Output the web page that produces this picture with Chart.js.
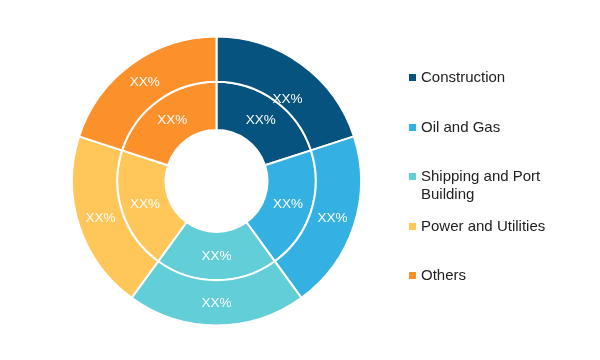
<!DOCTYPE html>
<html>
<head>
<meta charset="utf-8">
<script src="https://cdn.jsdelivr.net/npm/chart.js@4"></script>
<style>
  html, body { margin: 0; padding: 0; background: #fff; }
  #wrap { position: relative; width: 600px; height: 360px; }
  #c { position: absolute; left: 0; top: 0; }
  #legend { position: absolute; left: 0; top: 0; width: 600px; height: 360px; pointer-events: none; }
  .item { position: absolute; left: 409px; width: 180px; display: flex; align-items: flex-start;
          font-family: "Liberation Sans", Arial, sans-serif; font-size: 15px; line-height: 18px; color: #222; }
  .sw { width: 7px; height: 7px; margin-top: 6px; margin-right: 5px; flex: none; }
  .txt { width: 150px; }
</style>
</head>
<body>
<div id="wrap">
  <canvas id="c" width="600" height="360"></canvas>
  <div id="legend"></div>
</div>
<script>
const categories = ["Construction", "Oil and Gas", "Shipping and Port Building", "Power and Utilities", "Others"];
const outerValues = [20, 20, 20, 20, 20];
const innerValues = [20, 20, 20, 20, 20];
const outerLabels = ["XX%", "XX%", "XX%", "XX%", "XX%"];
const innerLabels = ["XX%", "XX%", "XX%", "XX%", "XX%"];
const colors = ["#07537F", "#34B1E2", "#62CED8", "#FFC65A", "#FC912C"];

// label placement tweaks (angle fraction within slice, radial fraction within ring)
const outerLabelPos = [[0.57, 0.2], [0.5, 0.5], [0.5, 0.5], [0.5, 0.5], [0.5, 0.5]];
const innerLabelPos = [[0.5, 0.5], [0.5, 0.5], [0.5, 0.5], [0.5, 0.5], [0.5, 0.5]];

const labelPlugin = {
  id: 'sliceLabels',
  afterDatasetsDraw(chart) {
    const ctx = chart.ctx;
    ctx.save();
    ctx.fillStyle = '#ffffff';
    ctx.font = '13.5px "Liberation Sans", Arial, sans-serif';
    ctx.textAlign = 'center';
    ctx.textBaseline = 'middle';
    chart.data.datasets.forEach((ds, di) => {
      const meta = chart.getDatasetMeta(di);
      const pos = di === 0 ? outerLabelPos : innerLabelPos;
      meta.data.forEach((arc, i) => {
        const p = arc.getProps(['x', 'y', 'startAngle', 'endAngle', 'innerRadius', 'outerRadius']);
        const a = p.startAngle + (p.endAngle - p.startAngle) * pos[i][0];
        const r = p.innerRadius + (p.outerRadius - p.innerRadius) * pos[i][1];
        ctx.fillText(ds.sliceLabels[i], p.x + Math.cos(a) * r, p.y + Math.sin(a) * r);
      });
    });
    ctx.restore();
  }
};

new Chart(document.getElementById('c'), {
  type: 'doughnut',
  data: {
    labels: categories,
    datasets: [
      { data: outerValues, sliceLabels: outerLabels, backgroundColor: colors, borderColor: '#ffffff', borderWidth: 2, hoverOffset: 0, weight: 45 },
      { data: innerValues, sliceLabels: innerLabels, backgroundColor: colors, borderColor: '#ffffff', borderWidth: 2, hoverOffset: 0, weight: 48 }
    ]
  },
  options: {
    responsive: false,
    animation: false,
    radius: 144.5,
    cutout: '35.3%',
    layout: { padding: { left: 0, right: 167, top: 2, bottom: 0 } },
    plugins: { legend: { display: false }, tooltip: { enabled: false } },
    events: []
  },
  plugins: [labelPlugin]
});

const legend = document.getElementById('legend');
categories.forEach((name, i) => {
  const item = document.createElement('div');
  item.className = 'item';
  item.style.top = (68 + i * 49.5) + 'px';
  const sw = document.createElement('div');
  sw.className = 'sw';
  sw.style.background = colors[i];
  const t = document.createElement('div');
  t.className = 'txt';
  t.textContent = name;
  item.appendChild(sw);
  item.appendChild(t);
  legend.appendChild(item);
});
</script>
</body>
</html>
